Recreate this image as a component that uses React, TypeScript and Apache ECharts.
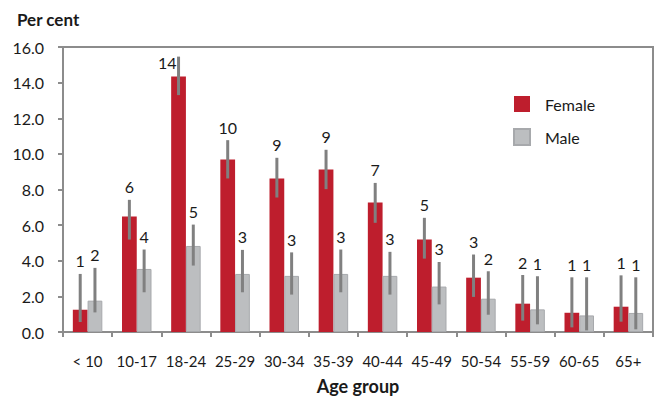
import React, { useEffect, useRef } from "react";
import * as echarts from "echarts";

const categories = ["< 10", "10-17", "18-24", "25-29", "30-34", "35-39", "40-44", "45-49", "50-54", "55-59", "60-65", "65+"];
const femaleValues = [1.25, 6.48, 14.35, 9.69, 8.62, 9.12, 7.27, 5.19, 3.05, 1.59, 1.08, 1.42];
const femaleLow = [0.56, 5.19, 13.3, 8.62, 7.55, 8.02, 6.13, 4.12, 1.97, 0.64, 0.26, 0.58];
const femaleHigh = [3.26, 7.42, 15.46, 10.77, 9.78, 10.23, 8.37, 6.41, 4.35, 3.2, 3.07, 3.18];
const femaleLabels = ["1", "6", "14", "10", "9", "9", "7", "5", "3", "2", "1", "1"];
const maleValues = [1.76, 3.54, 4.83, 3.26, 3.15, 3.26, 3.15, 2.55, 1.87, 1.27, 0.93, 1.07];
const maleLow = [1.1, 2.23, 3.73, 2.23, 2.1, 2.23, 2.1, 1.55, 0.97, 0.43, 0.09, 0.15];
const maleHigh = [3.6, 4.63, 6.03, 4.61, 4.47, 4.63, 4.5, 3.93, 3.41, 3.13, 3.07, 3.07];
const maleLabels = ["2", "4", "5", "3", "3", "3", "3", "3", "2", "1", "1", "1"];
const yTicks = { min: 0, max: 16, interval: 2 };

const FONT = "Lato, 'Noto Sans', sans-serif";
const RED = "#be1e2d";
const GREY = "#bcbec0";
const ERR = "#808080";
const AXIS = "#8c8c8c";
const GRID_TOP = 47;

function errorSeries(name: string, low: number[], high: number[], labels: string[], side: number) {
  return {
    type: "custom",
    name: name + "-err",
    z: 5,
    silent: true,
    data: categories.map((_, i) => [i, low[i], high[i]]),
    encode: { x: 0, y: [1, 2] },
    renderItem: (params: any, api: any) => {
      const i = api.value(0);
      const band = api.size([1, 0])[0];
      const barW = (band * 0.6) / 2;
      const base = api.coord([i, api.value(1)]);
      const top = api.coord([i, api.value(2)]);
      const x = base[0] + side * barW / 2;
      const label = labels[i];
      const crowded = top[1] - 20 < GRID_TOP;
      return {
        type: "group",
        children: [
          {
            type: "line",
            shape: { x1: x, y1: base[1], x2: x, y2: top[1] },
            style: { stroke: ERR, lineWidth: 3 },
          },
          {
            type: "text",
            x: crowded ? x - 2 : x,
            y: crowded ? top[1] - 2 : top[1] - 5,
            style: {
              text: label,
              fill: "#1a1a1a",
              font: "16px " + FONT,
              align: crowded ? "right" : "center",
              verticalAlign: crowded ? "top" : "bottom",
            },
          },
        ],
      };
    },
  };
}

export default function App() {
  const ref = useRef<HTMLDivElement>(null);
  useEffect(() => {
    if (!ref.current) return;
    const chart = echarts.init(ref.current, undefined, { renderer: "svg" });
    chart.setOption({
      animation: false,
      textStyle: { fontFamily: FONT },
      title: {
        text: "Per cent",
        left: 12,
        top: 6,
        textStyle: { fontFamily: FONT, fontWeight: "bold", fontSize: 17, color: "#1a1a1a" },
      },
      legend: {
        orient: "vertical",
        left: 508,
        top: 91,
        itemWidth: 16,
        itemHeight: 16,
        itemGap: 16,
        data: [
          { name: "Female", icon: "rect" },
          { name: "Male", icon: "rect" },
        ],
        textStyle: { fontFamily: FONT, fontSize: 16, color: "#1a1a1a", padding: [0, 0, 0, 10] },
      },
      grid: {
        left: 63,
        right: 11,
        top: GRID_TOP,
        bottom: 80,
        show: true,
        borderColor: AXIS,
        borderWidth: 2,
        containLabel: false,
      },
      xAxis: {
        type: "category",
        data: categories,
        name: "Age group",
        nameLocation: "middle",
        nameGap: 45,
        nameTextStyle: { fontFamily: FONT, fontWeight: "bold", fontSize: 18, color: "#1a1a1a", verticalAlign: "top" },
        axisLine: { lineStyle: { color: AXIS, width: 2 } },
        axisTick: { show: true, length: 5, lineStyle: { color: AXIS, width: 2 } },
        axisLabel: { fontFamily: FONT, fontSize: 15, color: "#1a1a1a", margin: 21, interval: 0 },
      },
      yAxis: {
        type: "value",
        min: yTicks.min,
        max: yTicks.max,
        interval: yTicks.interval,
        axisLine: { show: true, lineStyle: { color: AXIS, width: 2 } },
        axisTick: { show: true, length: 5, lineStyle: { color: AXIS, width: 2 } },
        splitLine: { show: false },
        axisLabel: {
          fontFamily: FONT,
          fontSize: 16,
          color: "#1a1a1a",
          margin: 19,
          formatter: (v: number) => v.toFixed(1),
        },
      },
      series: [
        {
          name: "Female",
          type: "bar",
          data: femaleValues,
          barGap: "0%",
          barCategoryGap: "40%",
          itemStyle: { color: RED },
        },
        {
          name: "Male",
          type: "bar",
          data: maleValues,
          barGap: "0%",
          barCategoryGap: "40%",
          itemStyle: { color: GREY, borderColor: "#a7a9ac", borderWidth: 1 },
        },
        errorSeries("Female", femaleLow, femaleHigh, femaleLabels, -1),
        errorSeries("Male", maleLow, maleHigh, maleLabels, 1),
      ],
    });
    return () => chart.dispose();
  }, []);
  return <div ref={ref} style={{ width: 664, height: 412, marginLeft: -8, marginTop: -8 }} />;
}
